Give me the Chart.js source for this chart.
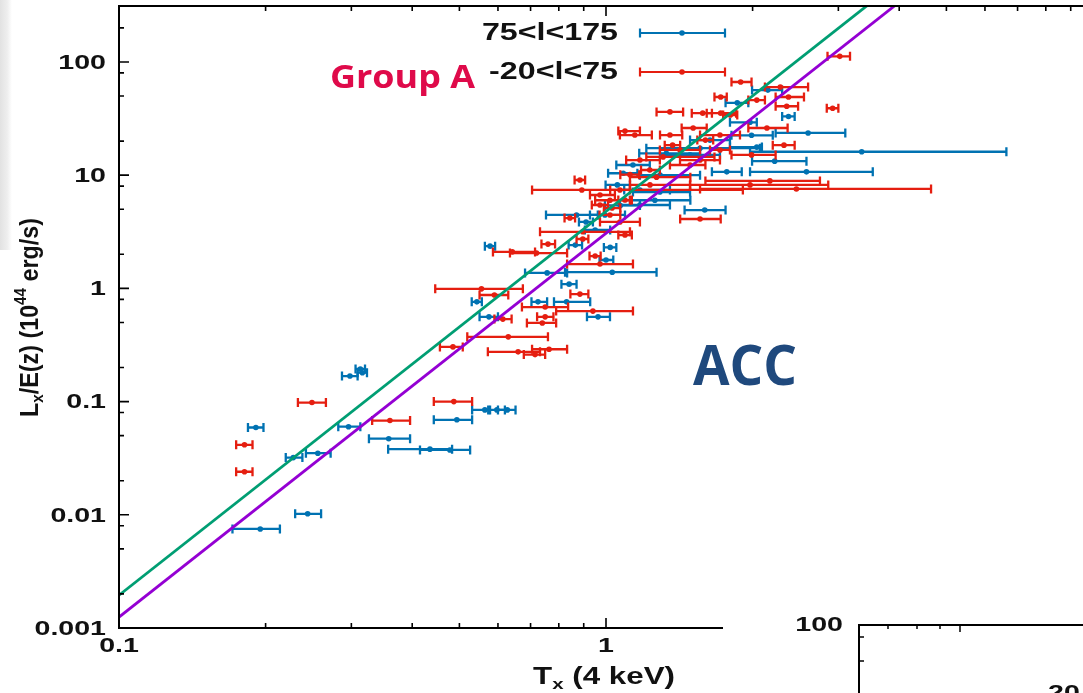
<!DOCTYPE html>
<html><head><meta charset="utf-8">
<script src="https://cdn.jsdelivr.net/npm/chart.js@4.4.1/dist/chart.umd.min.js"></script>
<style>
html,body{margin:0;padding:0;background:#fff;overflow:hidden;width:1083px;height:693px;}
#strip{position:absolute;left:0;top:0;width:12px;height:250px;background:linear-gradient(to right,#e2e2e2,#eeeeee 60%,#ffffff);}
canvas{position:absolute;left:0;top:0;}
</style></head><body>
<div id="strip"></div>
<canvas id="c" width="1100" height="693"></canvas>
<script>
// ---- data (T in units of 4 keV, L in 1e44 erg/s) ----
const seriesNames = ['75<l<175', '-20<l<75'];
const blueT   = [0.195,0.244,0.228,0.256,0.191,0.296,0.298,0.313,0.316,0.358,0.435,0.478,0.494,0.564,0.597,0.627,0.578,0.543,0.725,0.830,0.575,0.963,0.840,0.757,1.03,0.87,0.91,0.865,1.02,1.00,1.136,1.085,1.77,2.58,2.22,3.35,2.04,2.60,1.99,1.976,2.37,1.86,2.15,1.595,1.56,1.33,1.174,1.26,1.07,0.95,1.055,1.29,0.995,1.174,1.291,1.488,1.635];
const blueL   = [0.0075,0.0102,0.032,0.035,0.059,0.060,0.168,0.194,0.180,0.047,0.038,0.0374,0.069,0.0844,0.0844,0.0844,2.36,0.76,0.76,0.76,0.56,0.56,1.09,1.37,1.39,4.45,3.86,2.41,2.30,1.78,12.3,10.4,10.7,10.7,13.3,16.1,17.7,23.6,22.5,29.3,33,43.5,56.4,4.92,17.3,15.6,7.4,6.0,5.4,3.28,8.2,7.1,4.45,5.45,10.0,15.1,20.4];
const blueTlo = [0.171,0.230,0.220,0.242,0.184,0.282,0.287,0.306,0.309,0.326,0.357,0.415,0.443,0.531,0.573,0.600,0.564,0.530,0.703,0.782,0.550,0.914,0.810,0.682,0.824,0.753,0.88,0.838,0.99,0.97,1.05,1.01,1.65,1.976,1.995,1.976,1.797,2.23,1.81,1.797,2.30,1.76,1.995,1.45,1.21,1.17,1.09,1.12,0.995,0.905,0.998,1.136,0.927,1.068,1.174,1.291,1.488];
const blueThi = [0.214,0.260,0.238,0.272,0.198,0.313,0.309,0.320,0.323,0.396,0.483,0.526,0.531,0.578,0.620,0.652,0.592,0.556,0.757,0.928,0.600,1.019,0.870,0.832,1.27,0.962,0.94,0.893,1.05,1.035,1.23,1.16,1.90,3.53,2.58,6.64,2.09,3.10,2.20,2.04,2.44,1.96,2.30,1.76,2.07,1.56,1.353,1.49,1.174,1.02,1.12,1.488,1.094,1.353,1.56,1.714,1.797];

const redT   = [0.249,0.181,0.181,0.360,0.487,0.485,0.630,0.660,0.715,0.764,0.614,0.750,0.740,0.750,0.940,0.555,0.590,0.884,0.642,0.720,0.760,0.950,0.972,0.896,0.896,1.094,0.843,1.019,1.068,0.892,0.884,1.31,1.27,2.17,1.976,2.46,1.56,1.99,2.32,2.14,1.353,1.51,1.094,1.146,1.37,1.58,1.72,1.80,1.353,1.89,2.28,2.04,2.37,2.35,1.72,2.92,3.02,1.174,1.23,1.488,1.068,1.019,0.972,1.12,1.419,1.60,1.714,0.972,1.029,1.094,1.231,1.56,1.714];
const redL   = [0.098,0.0415,0.024,0.068,0.100,0.304,0.373,0.275,0.260,0.290,0.535,0.560,0.495,0.684,0.630,0.990,0.874,0.890,2.10,2.05,2.46,1.93,1.64,3.16,2.73,2.96,4.18,4.45,3.86,7.40,9.06,14.5,9.6,8.9,8.2,7.55,4.1,15.1,18.4,26.1,22.6,26.1,24.5,22.6,18.4,35.3,35.3,34,36.2,66.5,60,46,49,40.6,49,39,112,13.6,11.1,12.3,7.4,6.0,5.45,10.1,16.7,20.4,22.6,6.68,5.12,6.03,8.2,13.6,16.7];
const redTlo = [0.233,0.174,0.174,0.331,0.443,0.456,0.519,0.572,0.678,0.705,0.590,0.722,0.688,0.672,0.790,0.446,0.550,0.845,0.586,0.635,0.737,0.925,0.832,0.732,0.870,1.06,0.822,0.970,0.972,0.705,0.862,1.21,1.12,1.60,1.488,1.56,1.42,1.81,2.20,1.96,1.291,1.43,1.06,1.068,1.32,1.50,1.61,1.74,1.27,1.81,2.12,1.96,2.23,2.23,1.67,2.84,2.85,1.10,1.18,1.353,1.02,0.95,0.935,1.07,1.29,1.54,1.56,0.927,0.99,1.06,1.12,1.419,1.635];
const redThi = [0.266,0.188,0.188,0.396,0.531,0.508,0.760,0.732,0.750,0.832,0.640,0.780,0.790,0.836,1.136,0.675,0.630,0.920,0.715,0.832,0.786,0.975,1.136,1.12,0.92,1.13,0.864,1.070,1.174,1.91,0.906,1.67,1.49,2.75,2.86,4.65,1.72,2.23,2.44,2.36,1.434,1.61,1.174,1.242,1.42,1.65,1.85,1.86,1.44,1.99,2.60,2.12,2.55,2.48,1.77,3.00,3.17,1.29,1.29,1.60,1.12,1.12,1.01,1.17,1.56,1.66,1.884,1.043,1.07,1.13,1.488,1.714,1.797];

// fitted relations (two end points each)
const lineT      = [0.1, 10];
const greenLineL = [0.00195, 11750];
const purpleLineL= [0.00125, 7530];

// axis ticks
const xMajor = [0.1, 1, 10];
const xMajorLabels = ['0.1', '1', '10'];
const xMinor = [0.2,0.3,0.4,0.5,0.6,0.7,0.8,0.9,2,3,4,5,6,7,8,9];
const yMajor = [0.001, 0.01, 0.1, 1, 10, 100];
const yMajorLabels = ['0.001', '0.01', '0.1', '1', '10', '100'];
const yMinor = [0.002,0.005,0.008,0.02,0.05,0.08,0.2,0.5,0.8,2,5,8,20,50,80,200];

const C_BLUE = '#0072b2', C_RED = '#e51e10', C_GREEN = '#009e73', C_PURPLE = '#9400d3';
const FONT = '"Liberation Sans", Arial, sans-serif';
const SX = 1.36;

function pts(xs, ys){ return xs.map((v,i)=>({x:v, y:ys[i]})); }

function txt(ctx, s, x, y, font, color, align, baseline, sx, sy){
  ctx.save(); ctx.font = font; ctx.fillStyle = color; ctx.textAlign = align; ctx.textBaseline = baseline;
  ctx.translate(x, y); ctx.scale(sx, sy || 1); ctx.fillText(s, 0, 0); ctx.restore();
}
function fitText(ctx, s, x, y, font, color, baseline, targetW){
  ctx.save(); ctx.font = font; const w = ctx.measureText(s).width; ctx.restore();
  txt(ctx, s, x, y, font, color, 'left', baseline, targetW / w, 1);
}
// rich text: parts [text, fontPx, dy]
function rich(ctx, parts, targetLen, sy){
  let tot = 0;
  parts.forEach(p=>{ ctx.font = 'bold ' + p[1] + 'px ' + FONT; p.w = ctx.measureText(p[0]).width; tot += p.w; });
  const s = targetLen / tot;
  let cx = 0;
  parts.forEach(p=>{
    ctx.save(); ctx.scale(s, sy); ctx.font = 'bold ' + p[1] + 'px ' + FONT; ctx.fillStyle = '#111';
    ctx.textBaseline = 'alphabetic'; ctx.textAlign = 'left';
    ctx.fillText(p[0], cx, p[2]); ctx.restore();
    cx += p.w;
  });
}

const errPlugin = {
  id: 'errbars',
  beforeDatasetDraw(chart, args){
    const ds = chart.data.datasets[args.index];
    if (!ds.errLo) return;
    const ctx = chart.ctx, xs = chart.scales.x, ys = chart.scales.y, a = chart.chartArea;
    ctx.save();
    ctx.beginPath(); ctx.rect(a.left, a.top, a.right - a.left, a.bottom - a.top); ctx.clip();
    ctx.strokeStyle = ds.borderColor; ctx.lineWidth = 2.3; ctx.lineCap = 'butt';
    ds.data.forEach((p, i)=>{
      const y = ys.getPixelForValue(p.y);
      const x1 = xs.getPixelForValue(ds.errLo[i]), x2 = xs.getPixelForValue(ds.errHi[i]);
      ctx.beginPath();
      ctx.moveTo(x1, y); ctx.lineTo(x2, y);
      ctx.moveTo(x1, y - 4.5); ctx.lineTo(x1, y + 4.5);
      ctx.moveTo(x2, y - 4.5); ctx.lineTo(x2, y + 4.5);
      ctx.stroke();
    });
    ctx.restore();
  }
};

const decoPlugin = {
  id: 'deco',
  afterDraw(chart){
    const ctx = chart.ctx, xs = chart.scales.x, ys = chart.scales.y, a = chart.chartArea;
    ctx.save();
    // frame
    ctx.strokeStyle = '#000'; ctx.lineWidth = 2;
    ctx.strokeRect(a.left, a.top, a.right - a.left, a.bottom - a.top);
    // ticks
    ctx.lineWidth = 1.6;
    const tk = (vals, len, axis)=>{
      vals.forEach(v=>{
        ctx.beginPath();
        if (axis === 'x'){
          const x = xs.getPixelForValue(v);
          ctx.moveTo(x, a.bottom); ctx.lineTo(x, a.bottom - len);
          ctx.moveTo(x, a.top); ctx.lineTo(x, a.top + len);
        } else {
          const y = ys.getPixelForValue(v);
          ctx.moveTo(a.left, y); ctx.lineTo(a.left + len, y);
          ctx.moveTo(a.right, y); ctx.lineTo(a.right - len, y);
        }
        ctx.stroke();
      });
    };
    tk(xMajor, 10, 'x'); tk(xMinor, 5, 'x'); tk(yMajor, 10, 'y'); tk(yMinor, 5, 'y');
    // tick labels
    const lf = 'bold 21px ' + FONT;
    yMajor.forEach((v, i)=>{
      const y = ys.getPixelForValue(v);
      txt(ctx, yMajorLabels[i], 106, y + 1, lf, '#111', 'right', 'middle', SX);
    });
    xMajor.forEach((v, i)=>{
      const x = xs.getPixelForValue(v);
      txt(ctx, xMajorLabels[i], x, 636, lf, '#111', 'center', 'top', SX);
    });
    // x title
    ctx.save(); ctx.translate(533, 684);
    rich(ctx, [['T', 23, 0], ['x', 15, 5], [' (4 keV)', 23, 0]], 142, 1);
    ctx.restore();
    // y title
    ctx.save(); ctx.translate(38, 417); ctx.rotate(-Math.PI / 2);
    rich(ctx, [['L', 20, 0], ['x', 13, 4], ['/E(z) (10', 20, 0], ['44', 13, -9], [' erg/s)', 20, 0]], 199, 1.3);
    ctx.restore();
    // legend
    const lg = 'bold 23px ' + FONT;
    [[seriesNames[0], 33, C_BLUE], [seriesNames[1], 72, C_RED]].forEach(e=>{
      txt(ctx, e[0], 618, e[1] + 1, lg, '#111', 'right', 'middle', 1.4);
      ctx.strokeStyle = e[2]; ctx.fillStyle = e[2]; ctx.lineWidth = 2.2;
      ctx.beginPath();
      ctx.moveTo(640, e[1]); ctx.lineTo(725, e[1]);
      ctx.moveTo(640, e[1] - 4.5); ctx.lineTo(640, e[1] + 4.5);
      ctx.moveTo(725, e[1] - 4.5); ctx.lineTo(725, e[1] + 4.5);
      ctx.stroke();
      ctx.beginPath(); ctx.arc(682, e[1], 2.8, 0, Math.PI * 2); ctx.fill();
    });
    // annotations
    fitText(ctx, 'Group A', 330, 88, 'bold 32px "Open Sans", sans-serif', '#df0a4a', 'alphabetic', 145);
    fitText(ctx, 'ACC', 693, 385, 'bold 56px "Open Sans", sans-serif', '#1f497d', 'alphabetic', 104);
    // overlapping second panel (bottom right)
    ctx.fillStyle = '#fff'; ctx.fillRect(723, 609, 400, 100);
    ctx.strokeStyle = '#000'; ctx.lineWidth = 2;
    ctx.beginPath(); ctx.moveTo(859, 700); ctx.lineTo(859, 625); ctx.lineTo(1100, 625); ctx.stroke();
    ctx.lineWidth = 1.5;
    ctx.beginPath();
    [888, 917, 940].forEach(x=>{ ctx.moveTo(x, 625); ctx.lineTo(x, 629); });
    ctx.moveTo(960, 625); ctx.lineTo(960, 632);
    [637, 661].forEach(y=>{ ctx.moveTo(859, y); ctx.lineTo(864, y); });
    ctx.stroke();
    txt(ctx, '100', 843, 625, lf, '#111', 'right', 'middle', SX);
    txt(ctx, '20', 1048, 683, lf, '#111', 'left', 'top', SX);
    ctx.restore();
  }
};

new Chart(document.getElementById('c'), {
  type: 'scatter',
  data: {
    datasets: [
      { label: 'green', type: 'line', data: pts(lineT, greenLineL), borderColor: C_GREEN, borderWidth: 2.8, pointRadius: 0, fill: false, order: 0 },
      { label: 'purple', type: 'line', data: pts(lineT, purpleLineL), borderColor: C_PURPLE, borderWidth: 2.8, pointRadius: 0, fill: false, order: 0 },
      { label: seriesNames[1], data: pts(redT, redL), errLo: redTlo, errHi: redThi, borderColor: C_RED, backgroundColor: C_RED, pointRadius: 2.8, pointBorderWidth: 0, order: 1 },
      { label: seriesNames[0], data: pts(blueT, blueL), errLo: blueTlo, errHi: blueThi, borderColor: C_BLUE, backgroundColor: C_BLUE, pointRadius: 2.8, pointBorderWidth: 0, order: 2 }
    ]
  },
  options: {
    responsive: false, animation: false, devicePixelRatio: 1,
    layout: { padding: { left: 119, top: 6, right: 7, bottom: 65 } },
    plugins: { legend: { display: false }, tooltip: { enabled: false } },
    scales: {
      x: { type: 'logarithmic', min: 0.1, max: 10, display: false },
      y: { type: 'logarithmic', min: 0.001, max: 312, display: false }
    }
  },
  plugins: [errPlugin, decoPlugin]
});
</script>
</body></html>
